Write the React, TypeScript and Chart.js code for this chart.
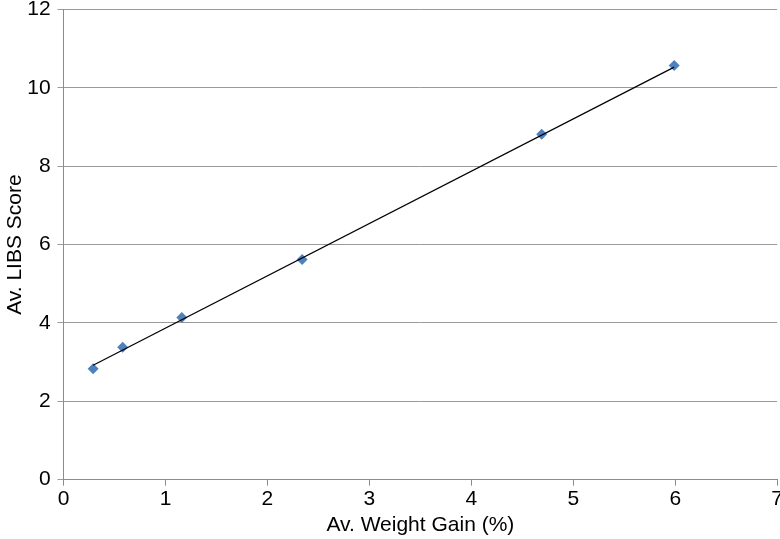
import React, { useEffect, useRef } from "react";
import { Chart, registerables } from "chart.js";

Chart.register(...registerables);

const weightGain = [0.29, 0.58, 1.16, 2.34, 4.69, 5.99];
const libsScore = [2.83, 3.38, 4.14, 5.62, 8.82, 10.57];
const trendX = [0.29, 5.99];
const trendY = [2.92, 10.53];
const xTitle = "Av. Weight Gain (%)";
const yTitle = "Av. LIBS Score";

export default function App() {
  const ref = useRef<HTMLCanvasElement | null>(null);
  useEffect(() => {
    document.body.style.margin = "0";
    const ctx = ref.current!;
    const font = "'Liberation Sans', Arial, sans-serif";
    const chart = new Chart(ctx, {
      type: "scatter",
      data: {
        datasets: [
          {
            label: "Trend",
            data: trendX.map((x, i) => ({ x, y: trendY[i] })),
            showLine: true,
            borderColor: "#000000",
            borderWidth: 1.2,
            pointRadius: 0,
            fill: false,
          },
          {
            label: "Data",
            data: weightGain.map((x, i) => ({ x, y: libsScore[i] })),
            pointStyle: "rectRot",
            pointRadius: 5.5,
            backgroundColor: "#4F81BD",
            borderColor: "#4F81BD",
            borderWidth: 0,
          },
        ],
      },
      options: {
        animation: false,
        responsive: false,
        maintainAspectRatio: false,
        layout: { padding: { top: 0, right: 0, bottom: 1, left: 0 } },
        plugins: { legend: { display: false }, tooltip: { enabled: false } },
        scales: {
          x: {
            type: "linear",
            min: 0,
            max: 7,
            ticks: { stepSize: 1, color: "#000", font: { family: font, size: 21, lineHeight: 1.1 }, padding: 2 },
            grid: { display: true, drawOnChartArea: false, drawTicks: true, tickLength: 6, color: "#8c8c8c" },
            border: { color: "#8c8c8c", width: 1 },
            title: { display: true, text: xTitle, color: "#000", font: { family: font, size: 21 }, padding: { top: 0, bottom: 0 } },
          },
          y: {
            type: "linear",
            min: 0,
            max: 12,
            ticks: { stepSize: 2, color: "#000", font: { family: font, size: 21, lineHeight: 1.1 }, padding: 7 },
            grid: { color: "#9a9a9a", lineWidth: 1, tickLength: 6 },
            border: { color: "#8c8c8c", width: 1 },
            title: { display: true, text: yTitle, color: "#000", font: { family: font, size: 21 }, padding: { top: 3, bottom: -8 } },
          },
        },
      },
    });
    return () => chart.destroy();
  }, []);
  return (
    <div style={{ width: 780, height: 539, background: "#fff", overflow: "hidden", position: "relative" }}>
      <canvas
        ref={ref}
        width={785}
        height={548}
        style={{ display: "block", position: "absolute", left: 0, top: -9 }}
      />
    </div>
  );
}
